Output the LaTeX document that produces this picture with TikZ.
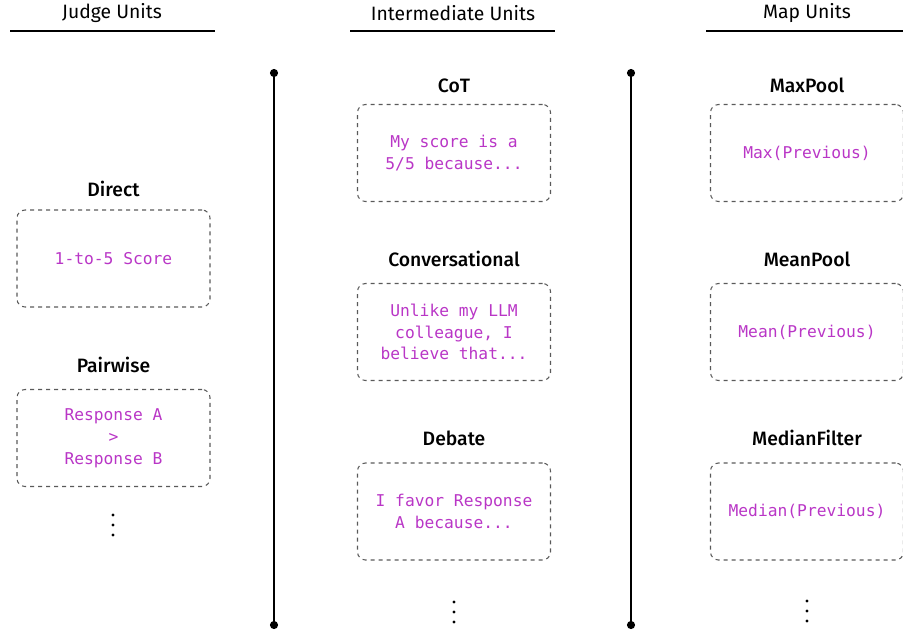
\documentclass[tikz,border=0pt]{standalone}
\usepackage{fontspec}
\setmainfont{Fira Sans}
\newfontfamily\unitmono{DejaVu Sans Mono}
\newfontfamily\titlefont{Fira Sans Medium}
\usetikzlibrary{positioning, arrows.meta}
\definecolor{PromptMagenta}{HTML}{B936C6}
\definecolor{BoxGray}{HTML}{5A5A5A}
\tikzset{
  header/.style={font=\fontsize{14.5}{17}\selectfont, inner sep=0pt},
  headrule/.style={line width=1.1pt},
  unittitle/.style={font=\titlefont\fontsize{14.5}{17}\selectfont, inner sep=0pt, text depth=0pt},
  unitbox/.style={rectangle, rounded corners=6pt, draw=BoxGray, dashed, line width=0.8pt, minimum width=144.75pt, minimum height=72.75pt, align=center, text=PromptMagenta, font=\unitmono\fontsize{12.2}{16.4}\selectfont},
  divider/.style={{Circle[length=6pt]}-{Circle[length=6pt]}, line width=1.4pt},
  moredot/.style={fill=black}
}

\begin{document}
\begin{tikzpicture}[x=0.75pt, y=-0.75pt]
  \useasboundingbox (0,0) rectangle (903,632);

  % column headers
  \node[header] (judgehd) at (112,13) {Judge Units};
  \node[header] (interhd) at (453,13) {Intermediate Units};
  \node[header] (maphd) at (807,13) {Map Units};
  \draw[headrule] (10,31) -- (215,31);
  \draw[headrule] (350,31) -- (555,31);
  \draw[headrule] (706,31) -- (910,31);

  % dividers
  \coordinate (divAtop) at (274,69);
  \coordinate (divAbot) at (274,629);
  \coordinate (divBtop) at (631,69);
  \coordinate (divBbot) at (631,629);
  \draw[divider] (divAtop) -- (divAbot);
  \draw[divider] (divBtop) -- (divBbot);

  % judge units
  \node[unitbox] (direct) at (113.5,258.5) {1-to-5 Score};
  \node[unittitle, above=9.5pt of direct] (directt) {Direct};
  \node[unitbox] (pairwise) at (113.5,438) {Response A\\>\\Response B};
  \node[unittitle, above=12.5pt of pairwise] (pairwiset) {Pairwise};
  \coordinate (judgedots) at (113,525);

  % intermediate units
  \node[unitbox] (cot) at (454,153) {My score is a\\5/5 because...};
  \node[unittitle, above=8.5pt of cot] (cott) {CoT};
  \node[unitbox] (conv) at (454,332) {Unlike my LLM\\colleague, I\\believe that...};
  \node[unittitle, above=12.5pt of conv] (convt) {Conversational};
  \node[unitbox] (debate) at (454,511.5) {I favor Response\\A because...};
  \node[unittitle, above=12.5pt of debate] (debatet) {Debate};
  \coordinate (interdots) at (454,612);

  % map units
  \node[unitbox] (maxpool) at (807,153) {Max(Previous)};
  \node[unittitle, above=8.5pt of maxpool] (maxpoolt) {MaxPool};
  \node[unitbox] (meanpool) at (807,332) {Mean(Previous)};
  \node[unittitle, above=12.5pt of meanpool] (meanpoolt) {MeanPool};
  \node[unitbox] (median) at (807,511.5) {Median(Previous)};
  \node[unittitle, above=12.5pt of median] (mediant) {MedianFilter};
  \coordinate (mapdots) at (807,611);

  % vertical ellipses
  \foreach \col in {judgedots, interdots, mapdots}
    \foreach \dy in {-7.5pt, 0pt, 7.5pt}
      \fill[moredot] ([yshift=\dy]\col) circle (1.2pt);
\end{tikzpicture}
\end{document}
